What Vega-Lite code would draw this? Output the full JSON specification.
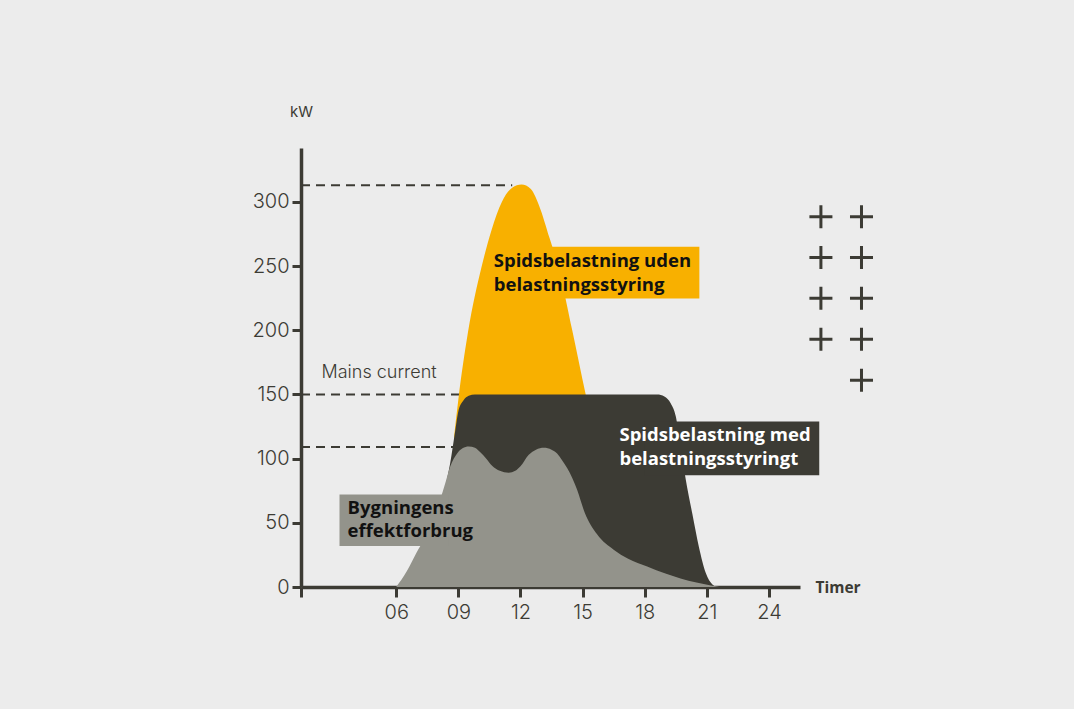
{
  "$schema": "https://vega.github.io/schema/vega-lite/v6.json",
  "width": 499,
  "height": 439,
  "autosize": {"type": "none"},
  "padding": {"left": 301, "top": 148, "right": 274, "bottom": 122},
  "background": "#ececec",
  "config": {
    "view": {"stroke": null},
    "axis": {
      "domainColor": "#3c3b34",
      "domainWidth": 3.5,
      "tickColor": "#3c3b34",
      "tickWidth": 3,
      "grid": false,
      "labelFont": "Inter",
      "labelFontWeight": 300,
      "labelFontSize": 20,
      "labelColor": "#3c3b34",
      "zindex": 1
    }
  },
  "resolve": {"scale": {"color": "independent"}},
  "datasets": {
    "curves": [
      {"s": "uden", "h": 8.8, "kw": 118},
      {"s": "uden", "h": 9.0, "kw": 146},
      {"s": "uden", "h": 9.46, "kw": 198},
      {"s": "uden", "h": 10.13, "kw": 250},
      {"s": "uden", "h": 10.6, "kw": 278},
      {"s": "uden", "h": 11.1, "kw": 300},
      {"s": "uden", "h": 11.6, "kw": 311},
      {"s": "uden", "h": 12.05, "kw": 313.5},
      {"s": "uden", "h": 12.5, "kw": 310},
      {"s": "uden", "h": 12.9, "kw": 297},
      {"s": "uden", "h": 13.4, "kw": 272},
      {"s": "uden", "h": 13.85, "kw": 248},
      {"s": "uden", "h": 14.5, "kw": 200},
      {"s": "uden", "h": 15.15, "kw": 150},
      {"s": "uden", "h": 15.6, "kw": 118},
      {"s": "med", "h": 8.4, "kw": 80},
      {"s": "med", "h": 8.6, "kw": 96},
      {"s": "med", "h": 8.85, "kw": 122},
      {"s": "med", "h": 9.0, "kw": 137},
      {"s": "med", "h": 9.25, "kw": 145.5},
      {"s": "med", "h": 9.5, "kw": 149},
      {"s": "med", "h": 9.8, "kw": 150},
      {"s": "med", "h": 12, "kw": 150},
      {"s": "med", "h": 15, "kw": 150},
      {"s": "med", "h": 18.6, "kw": 150},
      {"s": "med", "h": 18.95, "kw": 148.5},
      {"s": "med", "h": 19.26, "kw": 143},
      {"s": "med", "h": 19.5, "kw": 133},
      {"s": "med", "h": 19.7, "kw": 113},
      {"s": "med", "h": 19.98, "kw": 84},
      {"s": "med", "h": 20.3, "kw": 57},
      {"s": "med", "h": 20.62, "kw": 31},
      {"s": "med", "h": 20.95, "kw": 11},
      {"s": "med", "h": 21.27, "kw": 2},
      {"s": "med", "h": 21.45, "kw": 0},
      {"s": "bygning", "h": 6.0, "kw": 0},
      {"s": "bygning", "h": 6.5, "kw": 12},
      {"s": "bygning", "h": 6.97, "kw": 26.5},
      {"s": "bygning", "h": 7.4, "kw": 39},
      {"s": "bygning", "h": 7.8, "kw": 53},
      {"s": "bygning", "h": 8.1, "kw": 67},
      {"s": "bygning", "h": 8.37, "kw": 81},
      {"s": "bygning", "h": 8.61, "kw": 94},
      {"s": "bygning", "h": 8.94, "kw": 104},
      {"s": "bygning", "h": 9.2, "kw": 108},
      {"s": "bygning", "h": 9.5, "kw": 109.5},
      {"s": "bygning", "h": 9.8, "kw": 108.5},
      {"s": "bygning", "h": 10.06, "kw": 105},
      {"s": "bygning", "h": 10.35, "kw": 100},
      {"s": "bygning", "h": 10.63, "kw": 94.5},
      {"s": "bygning", "h": 11.0, "kw": 90.5},
      {"s": "bygning", "h": 11.43, "kw": 89},
      {"s": "bygning", "h": 11.75, "kw": 90.5},
      {"s": "bygning", "h": 12.0, "kw": 94},
      {"s": "bygning", "h": 12.4, "kw": 103},
      {"s": "bygning", "h": 12.75, "kw": 107},
      {"s": "bygning", "h": 13.13, "kw": 108.5},
      {"s": "bygning", "h": 13.5, "kw": 107},
      {"s": "bygning", "h": 13.77, "kw": 104},
      {"s": "bygning", "h": 14.0, "kw": 99},
      {"s": "bygning", "h": 14.26, "kw": 92.5},
      {"s": "bygning", "h": 14.74, "kw": 75.6},
      {"s": "bygning", "h": 15.1, "kw": 58},
      {"s": "bygning", "h": 15.7, "kw": 41},
      {"s": "bygning", "h": 16.5, "kw": 29},
      {"s": "bygning", "h": 17.2, "kw": 22},
      {"s": "bygning", "h": 18.12, "kw": 16},
      {"s": "bygning", "h": 19.0, "kw": 10.5},
      {"s": "bygning", "h": 19.73, "kw": 6.7},
      {"s": "bygning", "h": 20.5, "kw": 3.5},
      {"s": "bygning", "h": 21.2, "kw": 1.2},
      {"s": "bygning", "h": 21.6, "kw": 0}
    ],
    "guides": [
      {"h": 1.4, "h2": 11.6, "kw": 313},
      {"h": 1.4, "h2": 9.2, "kw": 150},
      {"h": 1.4, "h2": 9.0, "kw": 109}
    ],
    "boxes": [
      {"s": "uden", "h": 11.5, "h2": 20.64, "kw": 265, "kw2": 224.8},
      {"s": "med", "h": 18.0, "h2": 26.43, "kw": 129, "kw2": 87},
      {"s": "bygning", "h": 3.26, "h2": 8.5, "kw": 72, "kw2": 32}
    ],
    "labels": [
      {"s": "uden", "h": 10.71, "kw": 253.9, "t": "Spidsbelastning uden\nbelastningsstyring"},
      {"s": "med", "h": 16.78, "kw": 118.1, "t": "Spidsbelastning med\nbelastningsstyringt"},
      {"s": "bygning", "h": 3.65, "kw": 61.9, "t": "Bygningens\neffektforbrug"}
    ],
    "mains": [
      {"h": 2.39, "kw": 167, "t": "Mains current"}
    ],
    "plus": [
      {"h": 26.51, "kw": 288.5},
      {"h": 28.47, "kw": 288.5},
      {"h": 26.51, "kw": 256.6},
      {"h": 28.47, "kw": 256.6},
      {"h": 26.51, "kw": 224.9},
      {"h": 28.47, "kw": 224.9},
      {"h": 26.51, "kw": 193.0},
      {"h": 28.47, "kw": 193.0},
      {"h": 28.47, "kw": 161.0}
    ]
  },
  "data": {"name": "curves"},
  "encoding": {
    "x": {
      "field": "h",
      "type": "quantitative",
      "scale": {"domain": [1.4, 25.5], "nice": false, "zero": false},
      "axis": {
        "values": [1.4, 6, 9, 12, 15, 18, 21, 24],
        "format": "02d",
        "labelExpr": "datum.value < 2 ? '' : datum.label",
        "tickSize": 10,
        "labelPadding": 5,
        "title": "Timer",
        "titleFont": "Open Sans",
        "titleFontWeight": "bold",
        "titleFontSize": 15.5,
        "titleColor": "#3c3b34",
        "titleAlign": "left",
        "titleBaseline": "middle",
        "titleX": 514,
        "titleY": 0
      }
    },
    "y": {
      "field": "kw",
      "type": "quantitative",
      "stack": null,
      "scale": {"domain": [0, 342], "nice": false, "zero": false},
      "axis": {
        "values": [0, 50, 100, 150, 200, 250, 300],
        "tickSize": 9,
        "labelPadding": 3,
        "title": "kW",
        "titleFont": "Inter",
        "titleFontWeight": 400,
        "titleFontSize": 15,
        "titleColor": "#3c3b34",
        "titleAngle": 0,
        "titleAlign": "center",
        "titleBaseline": "middle",
        "titleX": 0,
        "titleY": -37
      }
    }
  },
  "layer": [
    {
      "data": {"name": "guides"},
      "mark": {"type": "rule", "strokeDash": [9, 6], "strokeWidth": 2, "color": "#3c3b34"},
      "encoding": {"x2": {"field": "h2"}}
    },
    {
      "transform": [{"filter": "datum.s == 'uden'"}],
      "mark": {"type": "area", "interpolate": "monotone", "color": "#f8b000"}
    },
    {
      "transform": [{"filter": "datum.s == 'med'"}],
      "mark": {"type": "area", "interpolate": "monotone", "color": "#3c3b34"}
    },
    {
      "transform": [{"filter": "datum.s == 'bygning'"}],
      "mark": {"type": "area", "interpolate": "monotone", "color": "#93938b"}
    },
    {
      "data": {"name": "boxes"},
      "mark": {"type": "rect"},
      "encoding": {
        "x2": {"field": "h2"},
        "y2": {"field": "kw2"},
        "color": {
          "field": "s",
          "type": "nominal",
          "scale": {"domain": ["uden", "med", "bygning"], "range": ["#f8b000", "#3c3b34", "#93938b"]},
          "legend": null
        }
      }
    },
    {
      "data": {"name": "labels"},
      "mark": {
        "type": "text",
        "align": "left",
        "baseline": "middle",
        "font": "Open Sans",
        "fontWeight": "bold",
        "fontSize": 18.5,
        "lineHeight": 23.5,
        "lineBreak": "\n"
      },
      "encoding": {
        "text": {"field": "t"},
        "color": {
          "field": "s",
          "type": "nominal",
          "scale": {"domain": ["uden", "med", "bygning"], "range": ["#111111", "#ffffff", "#111111"]},
          "legend": null
        }
      }
    },
    {
      "data": {"name": "mains"},
      "mark": {
        "type": "text",
        "align": "left",
        "baseline": "middle",
        "font": "Inter",
        "fontWeight": 300,
        "fontSize": 18,
        "color": "#3c3b34"
      },
      "encoding": {"text": {"field": "t"}}
    },
    {
      "data": {"name": "plus"},
      "mark": {
        "type": "point",
        "shape": "M-1,0L1,0M0,-1L0,1",
        "filled": false,
        "size": 529,
        "strokeWidth": 3,
        "color": "#3c3b34",
        "opacity": 1
      }
    }
  ]
}
